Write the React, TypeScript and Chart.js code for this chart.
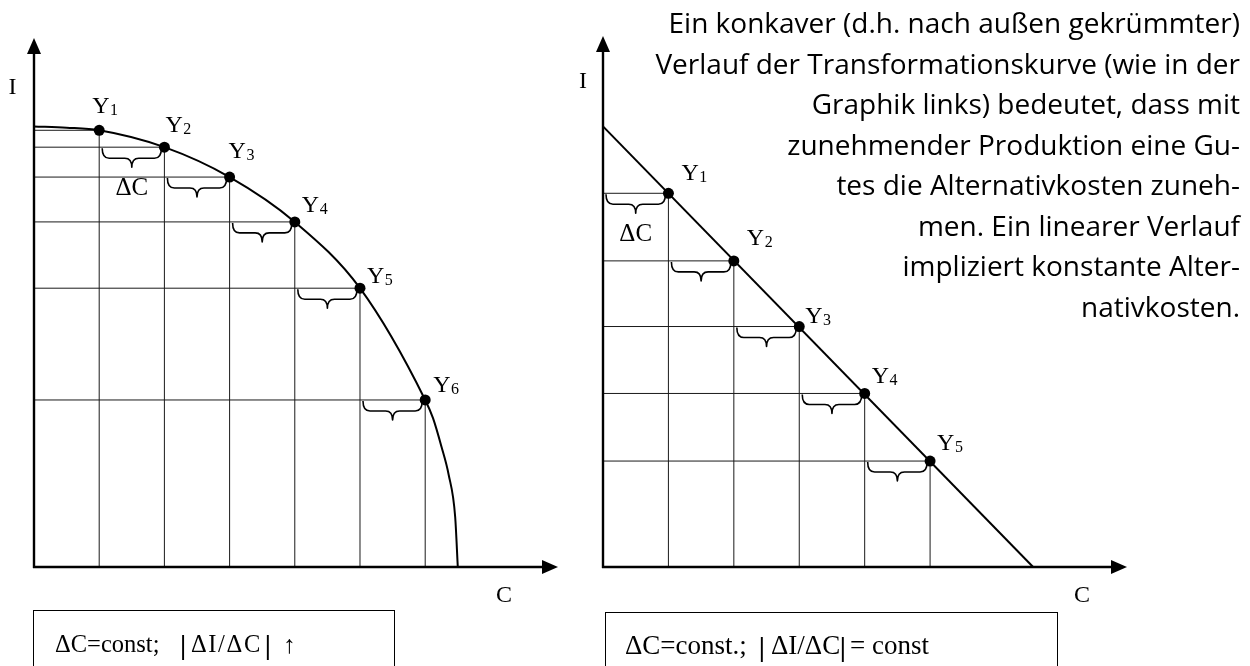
import React, { useEffect, useRef } from "react";
import { Chart, registerables } from "chart.js";

Chart.register(...registerables);

// ---------- Data: left chart (konkave Transformationskurve) ----------
const leftPointC = [1, 2, 3, 4, 5, 6];
const leftPointI = [6.72, 6.46, 6.0, 5.31, 4.29, 2.57];
const leftCurveC = [0, 0.5, 1, 2, 3, 4, 5, 6, 6.12, 6.25, 6.36, 6.46, 6.5];
const leftCurveI = [6.78, 6.76, 6.72, 6.46, 6.0, 5.31, 4.29, 2.57, 2.29, 1.85, 1.42, 0.77, 0];
const leftSubscripts = ["1", "2", "3", "4", "5", "6"];

// ---------- Data: right chart (lineare Transformationskurve) ----------
const rightPointC = [1, 2, 3, 4, 5];
const rightPointI = [5.75, 4.71, 3.7, 2.67, 1.63];
const rightLineC = [0, 6.575];
const rightLineI = [6.78, 0];
const rightSubscripts = ["1", "2", "3", "4", "5"];

// ---------- Text ----------
const paragraphLines = [
  "Ein konkaver (d.h. nach außen gekrümmter)",
  "Verlauf der Transformationskurve (wie in der",
  "Graphik links) bedeutet, dass mit",
  "zunehmender Produktion eine Gu-",
  "tes die Alternativkosten zuneh-",
  "men. Ein linearer Verlauf",
  "impliziert konstante Alter-",
  "nativkosten.",
];

// label offsets (pixels from the dot to the "Y" glyph origin)
const leftLabelOffsets = [
  [-7, -17], [1, -15], [-1, -19], [7, -10], [7, -5], [8, -8],
];
const rightLabelOffsets = [
  [13, -13], [13, -16], [6, -4], [7, -10], [7, -11],
];

const SERIF = '"Liberation Serif", "DejaVu Serif", serif';

type Brace = { c0: number; c1: number; i: number };
type Lbl = { c: number; i: number; dx: number; dy: number; sub: string };
type OverlayCfg = {
  braces: Brace[];
  labels: Lbl[];
  delta: Brace;
  axisI: { dx: number; y: number };
  axisC: { dx: number; y: number };
};

function drawBrace(ctx: CanvasRenderingContext2D, x1: number, x2: number, y0: number) {
  const h = 10, t = 9, r = 7;
  const xm = (x1 + x2) / 2;
  ctx.beginPath();
  ctx.moveTo(x1, y0);
  ctx.quadraticCurveTo(x1, y0 + h, x1 + r, y0 + h);
  ctx.lineTo(xm - r, y0 + h);
  ctx.quadraticCurveTo(xm, y0 + h, xm, y0 + h + t);
  ctx.quadraticCurveTo(xm, y0 + h, xm + r, y0 + h);
  ctx.lineTo(x2 - r, y0 + h);
  ctx.quadraticCurveTo(x2, y0 + h, x2, y0);
  ctx.stroke();
}

function overlayPlugin(cfg: OverlayCfg) {
  return {
    id: "overlay",
    afterDatasetsDraw(chart: any) {
      const ctx: CanvasRenderingContext2D = chart.ctx;
      const { left: L, right: R, top: T, bottom: B } = chart.chartArea;
      const px = (v: number) => chart.scales.x.getPixelForValue(v);
      const py = (v: number) => chart.scales.y.getPixelForValue(v);
      ctx.save();
      ctx.strokeStyle = "#000";
      ctx.fillStyle = "#000";
      // axes
      ctx.lineWidth = 2.4;
      ctx.beginPath();
      ctx.moveTo(L, B + 1);
      ctx.lineTo(L, T + 10);
      ctx.moveTo(L - 1, B);
      ctx.lineTo(R - 10, B);
      ctx.stroke();
      ctx.beginPath();
      ctx.moveTo(L, T);
      ctx.lineTo(L - 7, T + 16);
      ctx.lineTo(L + 7, T + 16);
      ctx.closePath();
      ctx.fill();
      ctx.beginPath();
      ctx.moveTo(R, B);
      ctx.lineTo(R - 16, B - 7);
      ctx.lineTo(R - 16, B + 7);
      ctx.closePath();
      ctx.fill();
      // braces
      ctx.lineWidth = 1.6;
      ctx.lineJoin = "round";
      cfg.braces.forEach((b) => drawBrace(ctx, px(b.c0) + 3, px(b.c1) - 3, py(b.i) + 1));
      // Y labels
      ctx.textBaseline = "alphabetic";
      ctx.textAlign = "left";
      cfg.labels.forEach((l) => {
        const x = px(l.c) + l.dx;
        const y = py(l.i) + l.dy;
        ctx.font = `24px ${SERIF}`;
        ctx.fillText("Y", x, y);
        const w = ctx.measureText("Y").width;
        ctx.font = `16px ${SERIF}`;
        ctx.fillText(l.sub, x + w + 0.5, y + 2);
      });
      // Delta C
      ctx.font = `25px ${SERIF}`;
      ctx.textAlign = "center";
      ctx.fillText("\u0394C", (px(cfg.delta.c0) + px(cfg.delta.c1)) / 2, py(cfg.delta.i) + 48);
      // axis labels
      ctx.font = `24px ${SERIF}`;
      ctx.fillText("I", L + cfg.axisI.dx, cfg.axisI.y);
      ctx.fillText("C", R + cfg.axisC.dx, cfg.axisC.y);
      ctx.restore();
    },
  };
}

function segDataset(a: { x: number; y: number }, b: { x: number; y: number }) {
  return {
    data: [a, b],
    showLine: true,
    borderColor: "#1a1a1a",
    borderWidth: 1,
    pointRadius: 0,
    fill: false,
    clip: false as any,
  };
}

function buildConfig(
  pointC: number[],
  pointI: number[],
  lineC: number[],
  lineI: number[],
  overlay: OverlayCfg,
  padding: { left: number; right: number; top: number; bottom: number },
  xMax: number,
  yMax: number,
  monotone: boolean
): any {
  const datasets: any[] = [];
  datasets.push({
    data: pointC.map((c, k) => ({ x: c, y: pointI[k] })),
    showLine: false,
    pointRadius: 5.5,
    pointBackgroundColor: "#000",
    pointBorderWidth: 0,
    clip: false,
  });
  datasets.push({
    data: lineC.map((c, k) => ({ x: c, y: lineI[k] })),
    showLine: true,
    borderColor: "#000",
    borderWidth: 2,
    pointRadius: 0,
    fill: false,
    cubicInterpolationMode: monotone ? "monotone" : "default",
    tension: 0,
    clip: false,
  });
  pointC.forEach((c, k) => {
    datasets.push(segDataset({ x: 0, y: pointI[k] }, { x: c, y: pointI[k] }));
    datasets.push(segDataset({ x: c, y: 0 }, { x: c, y: pointI[k] }));
  });
  return {
    type: "scatter",
    data: { datasets },
    options: {
      animation: false,
      responsive: false,
      devicePixelRatio: 1,
      events: [],
      layout: { padding },
      plugins: { legend: { display: false }, tooltip: { enabled: false } },
      scales: {
        x: { type: "linear", min: 0, max: xMax, display: false },
        y: { type: "linear", min: 0, max: yMax, display: false },
      },
    },
    plugins: [overlayPlugin(overlay)],
  };
}

export default function App() {
  const leftRef = useRef<HTMLCanvasElement>(null);
  const rightRef = useRef<HTMLCanvasElement>(null);

  useEffect(() => {
    const leftOverlay: OverlayCfg = {
      braces: leftPointC.slice(1).map((c, k) => ({ c0: leftPointC[k], c1: c, i: leftPointI[k + 1] })),
      labels: leftPointC.map((c, k) => ({
        c,
        i: leftPointI[k],
        dx: leftLabelOffsets[k][0],
        dy: leftLabelOffsets[k][1],
        sub: leftSubscripts[k],
      })),
      delta: { c0: leftPointC[0], c1: leftPointC[1], i: leftPointI[1] },
      axisI: { dx: -21.5, y: 93.5 },
      axisC: { dx: -54, y: 601.5 },
    };
    const rightOverlay: OverlayCfg = {
      braces: rightPointC.map((c, k) => ({ c0: k === 0 ? 0 : rightPointC[k - 1], c1: c, i: rightPointI[k] })),
      labels: rightPointC.map((c, k) => ({
        c,
        i: rightPointI[k],
        dx: rightLabelOffsets[k][0],
        dy: rightLabelOffsets[k][1],
        sub: rightSubscripts[k],
      })),
      delta: { c0: 0, c1: rightPointC[0], i: rightPointI[0] },
      axisI: { dx: -20, y: 88 },
      axisC: { dx: -45, y: 602 },
    };
    const a = new Chart(
      leftRef.current!,
      buildConfig(leftPointC, leftPointI, leftCurveC, leftCurveI, leftOverlay,
        { left: 34, right: 32, top: 38, bottom: 99 }, 8.037, 8.14, true)
    );
    const b = new Chart(
      rightRef.current!,
      buildConfig(rightPointC, rightPointI, rightLineC, rightLineI, rightOverlay,
        { left: 43, right: 123, top: 36, bottom: 99 }, 8.01, 8.17, false)
    );
    return () => {
      a.destroy();
      b.destroy();
    };
  }, []);

  const piece = (left: number, text: string, size: number, baseline: number, extra: any = {}): any => (
    <span
      style={{
        position: "absolute",
        left,
        top: baseline - (size * 0.891 - (size * 1.107 - size) / 2),
        fontFamily: SERIF,
        fontSize: size,
        lineHeight: `${size}px`,
        whiteSpace: "pre",
        color: "#000",
        ...extra,
      }}
    >
      {text}
    </span>
  );
  const bar = (center: number, baseline: number): any =>
    piece(center - 3.2, "|", 28, baseline, { fontWeight: "bold" });

  return (
    <div
      style={{
        position: "absolute",
        left: 0,
        top: 0,
        width: 1250,
        height: 666,
        overflow: "hidden",
        background: "#fff",
      }}
    >
      <canvas ref={leftRef} width={590} height={666} style={{ position: "absolute", left: 0, top: 0, width: 590, height: 666 }} />
      <canvas ref={rightRef} width={690} height={666} style={{ position: "absolute", left: 560, top: 0, width: 690, height: 666 }} />
      <div
        style={{
          position: "absolute",
          right: 10,
          top: 2.4,
          width: 800,
          textAlign: "right",
          fontFamily: "'Open Sans', Lato, sans-serif",
          fontSize: 28,
          lineHeight: "40.5px",
          color: "#000",
        }}
      >
        {paragraphLines.map((l, k) => (
          <div key={k} style={{ whiteSpace: "pre" }}>{l}</div>
        ))}
      </div>
      <div style={{ position: "absolute", left: 33, top: 610, width: 362, height: 80, border: "1.5px solid #000", boxSizing: "border-box" }} />
      <div style={{ position: "absolute", left: 605, top: 612, width: 453, height: 80, border: "1.5px solid #000", boxSizing: "border-box" }} />
      {piece(55, "\u0394C=const;", 24.5, 653)}
      {bar(183.3, 654)}
      {piece(191, "\u0394I/\u0394C", 24.5, 653, { letterSpacing: "1.6px" })}
      {bar(268, 654)}
      {piece(283, "\u2191", 25, 653)}
      {piece(625, "\u0394C=const.;", 27, 655)}
      {bar(762, 656)}
      {piece(771, "\u0394I/\u0394C", 27, 655)}
      {bar(843, 656)}
      {piece(850, "= const", 27, 655)}
    </div>
  );
}
